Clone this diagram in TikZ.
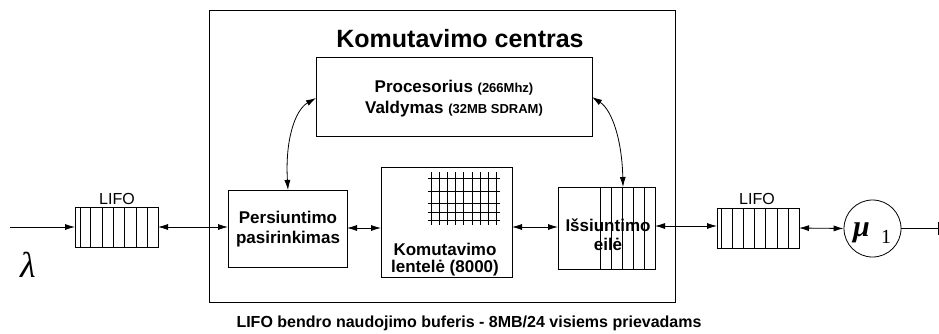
\documentclass[tikz,border=0pt]{standalone}
\usepackage{fontspec}
\setmainfont{Liberation Sans}
\newfontfamily\tms{Liberation Serif}
\usetikzlibrary{arrows.meta}
\begin{document}
\begin{tikzpicture}[x=1pt,y=-1pt,
  ln/.style={line width=0.8pt},
  box/.style={draw,line width=0.8pt,inner sep=0pt,outer sep=0pt},
  tip/.style={-{Latex[length=10pt,width=6pt]}},
  dtip/.style={{Latex[length=10pt,width=6pt]}-{Latex[length=10pt,width=6pt]}},
  btxt/.style={font=\bfseries\fontsize{17}{20}\selectfont,align=center,inner sep=0pt}]
\useasboundingbox (0,0) rectangle (939,333);
% outer box
\node[box,minimum width=466pt,minimum height=292pt,anchor=north west] (outer) at (209,10) {};
\node[font=\bfseries\fontsize{25}{28}\selectfont,anchor=base,inner sep=0pt] (title) at (460,47) {Komutavimo centras};
% processor
\node[box,minimum width=276pt,minimum height=79pt,anchor=north west] (proc) at (316,57) {};
\node[btxt,anchor=base] (p1) at (454,92) {Procesorius {\fontsize{13}{15}\selectfont(266Mhz)}};
\node[btxt,anchor=base] (p2) at (454,113) {Valdymas {\fontsize{13}{15}\selectfont(32MB SDRAM)}};
% persiuntimo
\node[box,minimum width=119pt,minimum height=77pt,anchor=north west] (pers) at (228,190) {};
\node[btxt,anchor=base] (pt1) at (288,223) {Persiuntimo};
\node[btxt,anchor=base] (pt2) at (288,243) {pasirinkimas};
% komutavimo lentele
\node[box,minimum width=131pt,minimum height=110pt,anchor=north west] (kom) at (381,167) {};
\foreach \x in {431,439,447,455,463,472,480,488,496}
  \draw[ln] (\x,172) -- (\x,225);
\foreach \y in {178,191,203,212,220}
  \draw[ln] (428,\y) -- (500,\y);
\node[btxt,anchor=base] (kt1) at (445,255) {Komutavimo};
\node[btxt,anchor=base] (kt2) at (445,272) {lentelė (8000)};
% issiuntimo
\node[box,minimum width=97pt,minimum height=82pt,anchor=north west] (iss) at (558,187) {};
\foreach \x in {600,611,622,633,644}
  \draw[ln] (\x,187) -- (\x,269);
\node[btxt,anchor=base] (it1) at (608,231) {Išsiuntimo};
\node[btxt,anchor=base] (it2) at (608,250) {eilė};
% left queue
\node[box,minimum width=83pt,minimum height=40pt,anchor=north west] (q1) at (75,207) {};
\foreach \x in {80,90,102,113,124,136,147}
  \draw[ln] (\x,207) -- (\x,247);
\node[font=\fontsize{16}{18}\selectfont,anchor=base,inner sep=0pt] (l1) at (117,204) {LIFO};
% right queue
\node[box,minimum width=82pt,minimum height=40pt,anchor=north west] (q2) at (717,208) {};
\foreach \x in {721,732,743,754,765,777,788}
  \draw[ln] (\x,208) -- (\x,248);
\node[font=\fontsize{16}{18}\selectfont,anchor=base,inner sep=0pt] (l2) at (757,204) {LIFO};
% server circle
\node[draw,circle,line width=0.8pt,minimum size=57pt,inner sep=0pt] (srv) at (872.5,228.5) {};
\node[anchor=base west,inner sep=0pt] (mu) at (853,236) {\tms\itshape\bfseries\fontsize{30}{30}\selectfont μ};
\node[anchor=base west,inner sep=0pt] (one) at (881,243) {\tms\fontsize{20}{20}\selectfont 1};
% lambda
\node[anchor=base west,inner sep=0pt] (lam) at (20,277) {\tms\itshape\fontsize{36}{36}\selectfont λ};
% connectors
\coordinate (in) at (10,227);
\draw[ln,tip] (in) -- (q1.west|-in);
\draw[ln,dtip] (158,227) -- (228,227);
\draw[ln,dtip] (347,228) -- (381,228);
\draw[ln,dtip] (512,227) -- (558,227);
\draw[ln,dtip] (655,226) -- (717,226);
\draw[ln,dtip] (799,228) -- (srv.west);
\coordinate (outend) at (938,228.5);
\draw[ln] (srv.east) -- (outend);
\draw[ln] (938,222) -- (938,235);
% curved arrows
\draw[ln,dtip] (288,190) .. controls (285,140) and (295,110) .. (316,98);
\draw[ln,dtip] (592,97) .. controls (612,110) and (622,140) .. (623,187);
% bottom text
\node[font=\bfseries\fontsize{16}{18}\selectfont,anchor=base,inner sep=0pt] (bt) at (469,327) {LIFO bendro naudojimo buferis - 8MB/24 visiems prievadams};
\end{tikzpicture}
\end{document}
